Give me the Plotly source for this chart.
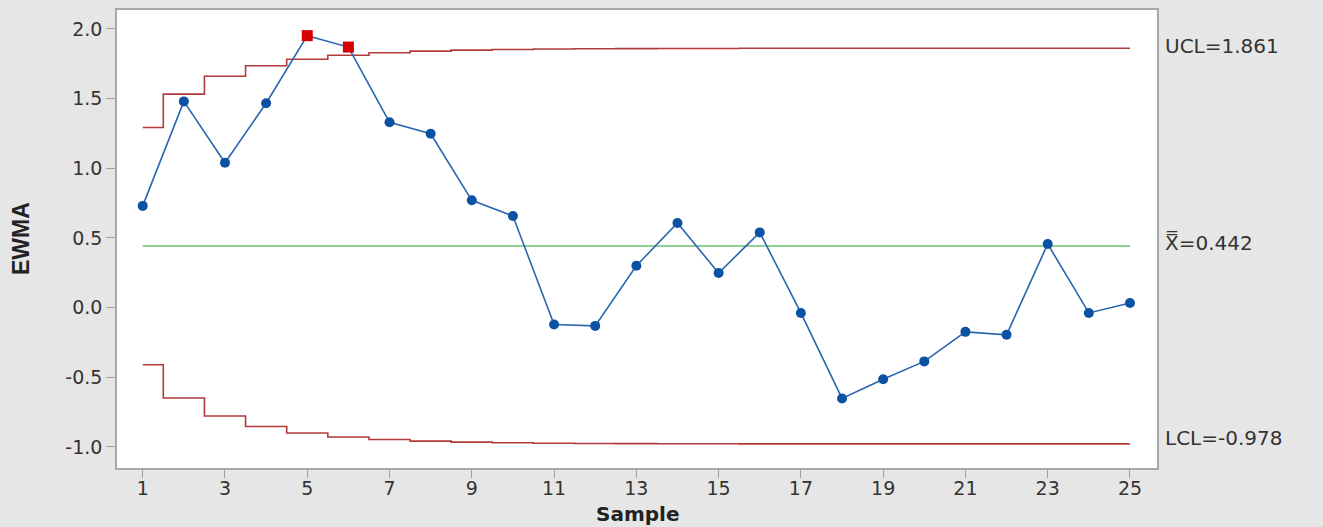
import plotly.graph_objects as go

samples = list(range(1, 26))
ewma = [0.73, 1.48, 1.04, 1.467, 1.952, 1.87, 1.33, 1.248, 0.77, 0.657,
        -0.121, -0.131, 0.30, 0.607, 0.248, 0.54, -0.038, -0.652, -0.514, -0.386,
        -0.174, -0.195, 0.457, -0.038, 0.033]
ucl = [1.293, 1.532, 1.661, 1.736, 1.783, 1.811, 1.829, 1.841, 1.848, 1.853,
       1.856, 1.858, 1.859, 1.860, 1.860, 1.861, 1.861, 1.861, 1.861, 1.861,
       1.861, 1.861, 1.861, 1.861, 1.861]
lcl = [-0.410, -0.649, -0.778, -0.853, -0.900, -0.928, -0.946, -0.958, -0.965, -0.970,
       -0.973, -0.975, -0.976, -0.977, -0.977, -0.978, -0.978, -0.978, -0.978, -0.978,
       -0.978, -0.978, -0.978, -0.978, -0.978]
center = 0.442
ucl_final = 1.861
lcl_final = -0.978
x_ticks = list(range(1, 26, 2))
y_ticks = [-1.0, -0.5, 0.0, 0.5, 1.0, 1.5, 2.0]
y_tick_labels = ["-1.0", "-0.5", "0.0", "0.5", "1.0", "1.5", "2.0"]

out_x = [s for s, v, u, l in zip(samples, ewma, ucl, lcl) if v > u or v < l]
out_y = [v for v, u, l in zip(ewma, ucl, lcl) if v > u or v < l]

fig = go.Figure()
fig.add_trace(go.Scatter(x=samples, y=ucl, mode="lines", line=dict(color="#b23a3a", width=1.6, shape="hvh"),
                         hoverinfo="skip", showlegend=False))
fig.add_trace(go.Scatter(x=samples, y=lcl, mode="lines", line=dict(color="#b23a3a", width=1.6, shape="hvh"),
                         hoverinfo="skip", showlegend=False))
fig.add_trace(go.Scatter(x=[samples[0], samples[-1]], y=[center, center], mode="lines",
                         line=dict(color="#6cc070", width=1.6), hoverinfo="skip", showlegend=False))
fig.add_trace(go.Scatter(x=samples, y=ewma, mode="lines+markers",
                         line=dict(color="#2a66b0", width=1.6),
                         marker=dict(symbol="circle", size=10, color="#0b52a3"),
                         showlegend=False))
fig.add_trace(go.Scatter(x=out_x, y=out_y, mode="markers",
                         marker=dict(symbol="square", size=11, color="#d60000"),
                         showlegend=False))

lab_font = dict(family="DejaVu Sans", size=20, color="#333333")
fig.add_annotation(x=1, xref="paper", y=ucl_final, yref="y", text=f"UCL={ucl_final:.3f}",
                   showarrow=False, xanchor="left", xshift=6, yshift=2, font=lab_font)
fig.add_annotation(x=1, xref="paper", y=center, yref="y", text=f"X\u033F={center:.3f}",
                   showarrow=False, xanchor="left", xshift=6, yshift=4, font=lab_font)
fig.add_annotation(x=1, xref="paper", y=lcl_final, yref="y", text=f"LCL={lcl_final:.3f}",
                   showarrow=False, xanchor="left", xshift=6, yshift=6, font=lab_font)
fig.add_annotation(x=0, xref="paper", y=0.5, yref="paper", text="<b>EWMA</b>", textangle=-90,
                   showarrow=False, xanchor="center", yanchor="middle", xshift=-96,
                   font=dict(family="Liberation Sans Narrow, Liberation Sans", size=23, color="#222222"))
fig.add_annotation(x=0.5, xref="paper", y=0, yref="paper", text="<b>Sample</b>",
                   showarrow=False, xanchor="center", yanchor="middle", yshift=-46,
                   font=dict(family="DejaVu Sans", size=20, color="#222222"))

fig.update_layout(
    width=1323, height=527,
    margin=dict(l=117, r=166, t=10, b=59),
    paper_bgcolor="#e6e6e6", plot_bgcolor="#ffffff",
    font=dict(family="DejaVu Sans", size=19, color="#333333"),
    xaxis=dict(range=[0.375, 25.657], tickmode="array", tickvals=x_ticks, automargin=False,
               ticks="outside", ticklen=8, tickcolor="#a0a0a0", showgrid=False, zeroline=False,
               showline=True, linecolor="#a8a8a8", linewidth=1.5, mirror=True,
               ticklabelstandoff=-6,
               tickfont=dict(family="DejaVu Sans", size=19, color="#333333")),
    yaxis=dict(range=[-1.151, 2.136], tickmode="array", tickvals=y_ticks, ticktext=y_tick_labels,
               automargin=False,
               ticks="outside", ticklen=9, tickcolor="#a0a0a0", showgrid=False, zeroline=False,
               showline=True, linecolor="#a8a8a8", linewidth=1.5, mirror=True,
               tickfont=dict(family="DejaVu Sans", size=19, color="#333333")),
)

fig.write_html("out.html", config={"displayModeBar": False},
               post_script="document.body.style.margin='0';document.body.style.background='#e6e6e6';")
